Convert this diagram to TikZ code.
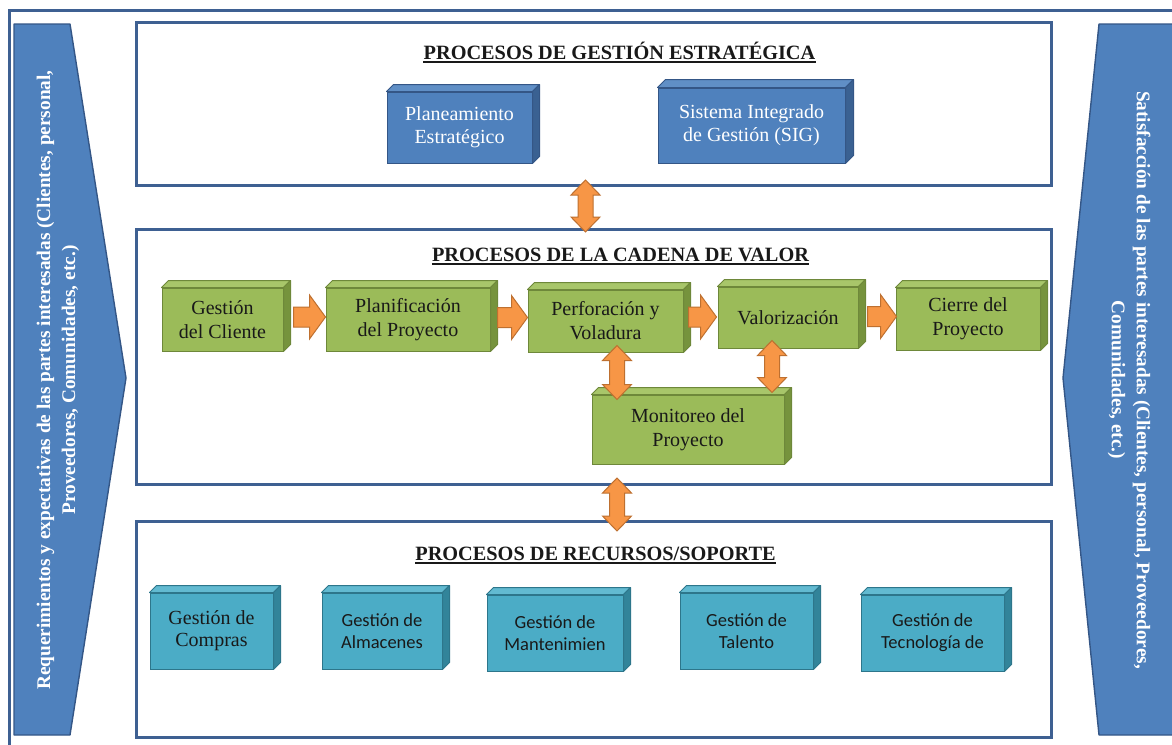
\documentclass[tikz,border=0pt]{standalone}
\usepackage{fontspec}
\setmainfont{Liberation Serif}
\newfontfamily\calibfont{Carlito}
\usetikzlibrary{calc}

% palette
\definecolor{frameC}{RGB}{62,96,146}
\definecolor{blueF}{RGB}{79,129,189}
\definecolor{blueT}{RGB}{96,143,198}
\definecolor{blueS}{RGB}{58,97,146}
\definecolor{blueE}{RGB}{52,86,134}
\definecolor{greenF}{RGB}{155,187,89}
\definecolor{greenT}{RGB}{168,198,106}
\definecolor{greenS}{RGB}{118,147,61}
\definecolor{greenE}{RGB}{110,136,58}
\definecolor{tealF}{RGB}{75,172,198}
\definecolor{tealT}{RGB}{98,186,209}
\definecolor{tealS}{RGB}{50,132,154}
\definecolor{tealE}{RGB}{45,118,139}
\definecolor{orangeF}{RGB}{247,150,70}
\definecolor{orangeE}{RGB}{190,112,48}
\definecolor{textD}{RGB}{25,25,25}

% side and top faces of a raised box
\newcommand\extrude[4]{%
  \path[#3] (#1.north west) -- ++(#2,-#2) -- ($(#1.north east)+(#2,-#2)$) -- (#1.north east) -- cycle;
  \path[#4] (#1.north east) -- ($(#1.north east)+(#2,-#2)$) -- ($(#1.south east)+(#2,-#2)$) -- (#1.south east) -- cycle;
}
% block arrow pointing right, tail #1 to tip #2 (same height)
\newcommand\rarrow[2]{%
  \path[blockarrow] ($(#1)+(0,-10)$) -- ($(#2)+(-16,-10)$) -- ($(#2)+(-16,-22)$) -- (#2)
    -- ($(#2)+(-16,22)$) -- ($(#2)+(-16,10)$) -- ($(#1)+(0,10)$) -- cycle;
}
% vertical double block arrow, upper tip #1 to lower tip #2
\newcommand\vdarrow[2]{%
  \path[blockarrow] (#1) -- ($(#1)+(14.5,15)$) -- ($(#1)+(7.5,15)$) -- ($(#2)+(7.5,-15)$)
    -- ($(#2)+(14.5,-15)$) -- (#2) -- ($(#2)+(-14.5,-15)$) -- ($(#2)+(-7.5,-15)$)
    -- ($(#1)+(-7.5,15)$) -- ($(#1)+(-14.5,15)$) -- cycle;
}

\begin{document}
\begin{tikzpicture}[x=1pt,y=-1pt,
  frame/.style={draw=frameC, line width=3pt, minimum width=915pt, inner sep=0, anchor=north west},
  title/.style={font=\fontsize{20.3}{24}\selectfont\bfseries, inner sep=0, anchor=base, text=textD},
  uline/.style={draw=textD, line width=1.3pt},
  penta/.style={fill=blueF, draw=blueE, line width=1.4pt, line join=round},
  sidetext/.style={align=center, text=white, font=\fontsize{19.3}{25}\selectfont\bfseries, inner sep=0},
  bbox/.style={fill=blueF, draw=blueE, line width=1pt, inner sep=0, align=center, text=white,
    font=\fontsize{20}{23}\selectfont},
  btop/.style={fill=blueT, draw=blueE, line width=1pt, line join=round},
  bside/.style={fill=blueS, draw=blueE, line width=1pt, line join=round},
  gbox/.style={fill=greenF, draw=greenE, line width=1pt, inner sep=0, align=center, text=textD,
    font=\fontsize{20}{24}\selectfont},
  gtop/.style={fill=greenT, draw=greenE, line width=1pt, line join=round},
  gside/.style={fill=greenS, draw=greenE, line width=1pt, line join=round},
  tbox/.style={fill=tealF, draw=tealE, line width=1pt, inner sep=0, align=center, text=textD,
    font=\calibfont\fontsize{18.5}{22}\selectfont},
  ttop/.style={fill=tealT, draw=tealE, line width=1pt, line join=round},
  tside/.style={fill=tealS, draw=tealE, line width=1pt, line join=round},
  blockarrow/.style={fill=orangeF, draw=orangeE, line width=1pt, line join=miter}
]
\useasboundingbox (0,0) rectangle (1172,744);
\fill[white] (0,0) rectangle (1172,744);

% outer border
\draw[draw=frameC, line width=3pt] (9,760) -- (9,10) -- (1190,10);

% stakeholder arrows at both sides
\path[penta] (14,24) -- (70,24) -- (126,378) -- (70,735) -- (14,735) -- cycle;
\node[sidetext, rotate=90] (reqs) at (58,380)
  {Requerimientos y expectativas de las partes interesadas (Clientes, personal,\\
   Proveedores, Comunidades, etc.)};
\path[penta] (1190,24) -- (1099,24) -- (1063,378) -- (1099,735) -- (1190,735) -- cycle;
\node[sidetext, rotate=-90] (sat) at (1129,380)
  {Satisfacción de las partes interesadas (Clientes, personal, Proveedores,\\
   Comunidades, etc.)};

% the three process groups
\node[frame, minimum height=163pt] (ftop) at (135,21) {};
\node[frame, minimum height=255pt] (fmid) at (135,228) {};
\node[frame, minimum height=216pt] (fbot) at (135,520) {};

\node[title] (t1) at (619.5,59) {PROCESOS DE GESTIÓN ESTRATÉGICA};
\draw[uline] ($(t1.base west)+(0,3)$) -- ($(t1.base east)+(0,3)$);
\node[title] (t2) at (620.5,261) {PROCESOS DE LA CADENA DE VALOR};
\draw[uline] ($(t2.base west)+(0,3)$) -- ($(t2.base east)+(0,3)$);
\node[title] (t3) at (595.5,560) {PROCESOS DE RECURSOS/SOPORTE};
\draw[uline] ($(t3.base west)+(0,3)$) -- ($(t3.base east)+(0,3)$);

% strategic management
\node[bbox, minimum width=145pt, minimum height=71pt] (pe) at (459.5,127.5) {Planeamiento\\Estratégico};
\extrude{pe}{7}{btop}{bside}
\node[bbox, minimum width=187pt, minimum height=75pt] (sig) at (751.5,125.5) {Sistema Integrado\\de Gestión (SIG)};
\extrude{sig}{8}{btop}{bside}

% value chain
\node[gbox, minimum width=121pt, minimum height=63pt] (gc) at (222.5,319.5) {Gestión\\del Cliente};
\extrude{gc}{7}{gtop}{gside}
\node[gbox, minimum width=164pt, minimum height=63pt] (pp) at (408,319.5) {Planificación\\del Proyecto};
\extrude{pp}{7}{gtop}{gside}
\node[gbox, minimum width=155pt, minimum height=62pt] (pv) at (605.5,321) {Perforación y\\Voladura};
\extrude{pv}{7}{gtop}{gside}
\node[gbox, minimum width=140pt, minimum height=61pt] (va) at (788,317.5) {Valorización};
\extrude{va}{7}{gtop}{gside}
\node[gbox, minimum width=144pt, minimum height=62pt] (ci) at (968,319) {Cierre del\\Proyecto};
\extrude{ci}{7}{gtop}{gside}
\node[gbox, minimum width=192pt, minimum height=69pt] (mo) at (688,429.5) {Monitoreo del\\Proyecto};
\extrude{mo}{7}{gtop}{gside}

% support processes
\node[tbox, minimum width=123pt, minimum height=76pt, font=\fontsize{20}{22}\selectfont] (cp) at (211.5,631) {Gestión de\\Compras};
\extrude{cp}{7}{ttop}{tside}
\node[tbox, minimum width=120pt, minimum height=76pt] (al) at (382,631) {Gestión de\\Almacenes};
\extrude{al}{7}{ttop}{tside}
\node[tbox, minimum width=136pt, minimum height=76pt] (mt) at (555,633) {Gestión de\\Mantenimien};
\extrude{mt}{7}{ttop}{tside}
\node[tbox, minimum width=133pt, minimum height=76pt] (ta) at (746.5,631) {Gestión de\\Talento};
\extrude{ta}{7}{ttop}{tside}
\node[tbox, minimum width=143pt, minimum height=76pt] (te) at (932.5,633) {Gestión de\\Tecnología de};
\extrude{te}{7}{ttop}{tside}

% flow along the value chain
\coordinate (s1) at ($(gc.east)+(10,-2.5)$);  \coordinate (e1) at (s1 -| pp.west);
\rarrow{s1}{e1}
\coordinate (s2) at ($(pp.east)+(7,-2)$);     \coordinate (e2) at (s2 -| pv.west);
\rarrow{s2}{e2}
\coordinate (s3) at ($(pv.east)+(5,-4)$);     \coordinate (e3) at ($(s3 -| va.west)+(-1,0)$);
\rarrow{s3}{e3}
\coordinate (s4) at ($(va.east)+(9,-1)$);     \coordinate (e4) at ($(s4 -| ci.west)+(1,0)$);
\rarrow{s4}{e4}

% links with monitoring
\coordinate (u1) at ($(pv.south)+(11.5,-7)$); \coordinate (d1) at ($(u1 |- mo.north)+(0,5)$);
\vdarrow{u1}{d1}
\coordinate (u2) at ($(va.south)+(-16,-8)$);  \coordinate (d2) at ($(u2 |- mo.north)+(0,-2)$);
\vdarrow{u2}{d2}

% links between the groups
\coordinate (u3) at ($(ftop.south)+(-8.5,-7)$); \coordinate (d3) at ($(u3 |- fmid.north)+(0,4)$);
\vdarrow{u3}{d3}
\coordinate (u4) at ($(u1 |- fmid.south)+(0,-8)$); \coordinate (d4) at ($(u4 |- fbot.north)+(0,11)$);
\vdarrow{u4}{d4}
\end{tikzpicture}
\end{document}
